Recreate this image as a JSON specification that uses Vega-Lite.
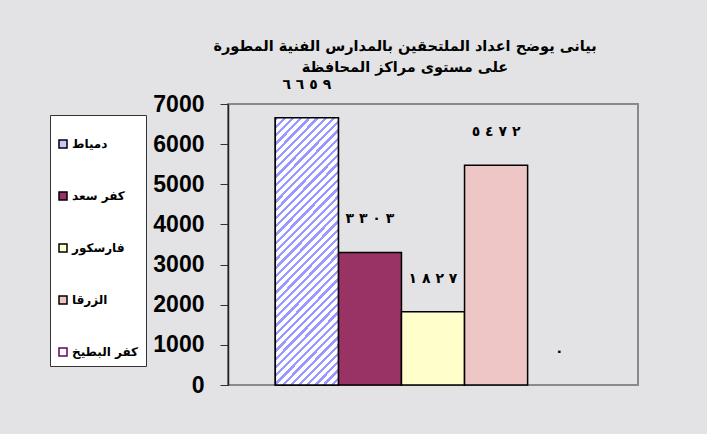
{
  "$schema": "https://vega.github.io/schema/vega-lite/v6.json",
  "width": 410,
  "height": 281,
  "autosize": {"type": "none"},
  "padding": {"left": 228, "top": 104, "right": 69, "bottom": 49},
  "background": "#e3e3e5",
  "title": {
    "text": ["بيانى يوضح اعداد الملتحقين بالمدارس الفنية المطورة", "على مستوى مراكز المحافظة"],
    "font": "DejaVu Sans",
    "fontSize": 14.5,
    "fontWeight": "bold",
    "color": "#000000",
    "anchor": "middle",
    "dx": -28,
    "offset": 2,
    "lineHeight": 21
  },
  "data": {
    "values": [
      {"region": "دمياط", "count": 6659, "label": "٦‎ ٦‎ ٥‎ ٩"},
      {"region": "كفر سعد", "count": 3303, "label": "٣‎ ٣‎ ٠‎ ٣"},
      {"region": "فارسكور", "count": 1827, "label": "١‎ ٨‎ ٢‎ ٧"},
      {"region": "الزرقا", "count": 5472, "label": "٥‎ ٤‎ ٧‎ ٢"},
      {"region": "كفر البطيخ", "count": 0, "label": "٠"}
    ]
  },
  "encoding": {
    "x": {
      "field": "region",
      "type": "nominal",
      "sort": ["دمياط", "كفر سعد", "فارسكور", "الزرقا", "كفر البطيخ"],
      "scale": {"paddingInner": 0, "paddingOuter": 0.75},
      "axis": null
    },
    "y": {
      "field": "count",
      "type": "quantitative",
      "scale": {"domain": [0, 7000], "nice": false},
      "axis": {
        "title": null,
        "values": [0, 1000, 2000, 3000, 4000, 5000, 6000, 7000],
        "format": "d",
        "grid": false,
        "labelFont": "Liberation Sans",
        "labelFontSize": 23,
        "labelFontWeight": "bold",
        "labelColor": "#000000",
        "labelPadding": 16,
        "tickSize": 8,
        "tickColor": "#333333",
        "tickWidth": 1,
        "domainColor": "#222222",
        "domainWidth": 1.5
      }
    }
  },
  "layer": [
    {
      "transform": [{"filter": "datum.count > 0"}],
      "mark": {"type": "bar", "stroke": "#000000", "strokeWidth": 1.5},
      "encoding": {
        "fill": {
          "field": "region",
          "type": "nominal",
          "scale": {
            "domain": ["دمياط", "كفر سعد", "فارسكور", "الزرقا", "كفر البطيخ"],
            "range": ["#c8c8ff", "#993366", "#ffffcc", "#efc6c6", "#ffffff"]
          },
          "legend": {
            "orient": "none",
            "legendX": -178,
            "legendY": 11,
            "title": " ",
            "titleFontSize": 12,
            "titlePadding": 4,
            "padding": 7,
            "fillColor": "#ffffff",
            "strokeColor": "#333333",
            "symbolType": "square",
            "symbolSize": 64,
            "symbolStrokeWidth": 1.5,
            "symbolStrokeColor": "#000000",
            "labelFont": "DejaVu Sans",
            "labelFontSize": 12,
            "labelFontWeight": "bold",
            "labelColor": "#000000",
            "labelOffset": 3,
            "labelLimit": 200,
            "rowPadding": 38,
            "encode": {
              "symbols": {
                "update": {
                  "stroke": [
                    {"test": "datum.value === 'كفر البطيخ'", "value": "#660066"},
                    {"value": "#000000"}
                  ]
                }
              }
            }
          }
        }
      }
    },
    {
      "transform": [{"filter": "datum.region === 'دمياط'"}],
      "mark": {
        "type": "bar",
        "stroke": "#000000",
        "strokeWidth": 1.5,
        "fill": {
          "gradient": "linear",
          "x1": 0, "y1": 0, "x2": 0.28, "y2": 1.172,
          "stops": [
            {"offset": 0, "color": "#9999ff"}, {"offset": 0.01, "color": "#9999ff"}, {"offset": 0.01, "color": "#ffffff"}, {"offset": 0.025, "color": "#ffffff"},
            {"offset": 0.025, "color": "#9999ff"}, {"offset": 0.035, "color": "#9999ff"}, {"offset": 0.035, "color": "#ffffff"}, {"offset": 0.05, "color": "#ffffff"},
            {"offset": 0.05, "color": "#9999ff"}, {"offset": 0.06, "color": "#9999ff"}, {"offset": 0.06, "color": "#ffffff"}, {"offset": 0.075, "color": "#ffffff"},
            {"offset": 0.075, "color": "#9999ff"}, {"offset": 0.085, "color": "#9999ff"}, {"offset": 0.085, "color": "#ffffff"}, {"offset": 0.1, "color": "#ffffff"},
            {"offset": 0.1, "color": "#9999ff"}, {"offset": 0.11, "color": "#9999ff"}, {"offset": 0.11, "color": "#ffffff"}, {"offset": 0.125, "color": "#ffffff"},
            {"offset": 0.125, "color": "#9999ff"}, {"offset": 0.135, "color": "#9999ff"}, {"offset": 0.135, "color": "#ffffff"}, {"offset": 0.15, "color": "#ffffff"},
            {"offset": 0.15, "color": "#9999ff"}, {"offset": 0.16, "color": "#9999ff"}, {"offset": 0.16, "color": "#ffffff"}, {"offset": 0.175, "color": "#ffffff"},
            {"offset": 0.175, "color": "#9999ff"}, {"offset": 0.185, "color": "#9999ff"}, {"offset": 0.185, "color": "#ffffff"}, {"offset": 0.2, "color": "#ffffff"},
            {"offset": 0.2, "color": "#9999ff"}, {"offset": 0.21, "color": "#9999ff"}, {"offset": 0.21, "color": "#ffffff"}, {"offset": 0.225, "color": "#ffffff"},
            {"offset": 0.225, "color": "#9999ff"}, {"offset": 0.235, "color": "#9999ff"}, {"offset": 0.235, "color": "#ffffff"}, {"offset": 0.25, "color": "#ffffff"},
            {"offset": 0.25, "color": "#9999ff"}, {"offset": 0.26, "color": "#9999ff"}, {"offset": 0.26, "color": "#ffffff"}, {"offset": 0.275, "color": "#ffffff"},
            {"offset": 0.275, "color": "#9999ff"}, {"offset": 0.285, "color": "#9999ff"}, {"offset": 0.285, "color": "#ffffff"}, {"offset": 0.3, "color": "#ffffff"},
            {"offset": 0.3, "color": "#9999ff"}, {"offset": 0.31, "color": "#9999ff"}, {"offset": 0.31, "color": "#ffffff"}, {"offset": 0.325, "color": "#ffffff"},
            {"offset": 0.325, "color": "#9999ff"}, {"offset": 0.335, "color": "#9999ff"}, {"offset": 0.335, "color": "#ffffff"}, {"offset": 0.35, "color": "#ffffff"},
            {"offset": 0.35, "color": "#9999ff"}, {"offset": 0.36, "color": "#9999ff"}, {"offset": 0.36, "color": "#ffffff"}, {"offset": 0.375, "color": "#ffffff"},
            {"offset": 0.375, "color": "#9999ff"}, {"offset": 0.385, "color": "#9999ff"}, {"offset": 0.385, "color": "#ffffff"}, {"offset": 0.4, "color": "#ffffff"},
            {"offset": 0.4, "color": "#9999ff"}, {"offset": 0.41, "color": "#9999ff"}, {"offset": 0.41, "color": "#ffffff"}, {"offset": 0.425, "color": "#ffffff"},
            {"offset": 0.425, "color": "#9999ff"}, {"offset": 0.435, "color": "#9999ff"}, {"offset": 0.435, "color": "#ffffff"}, {"offset": 0.45, "color": "#ffffff"},
            {"offset": 0.45, "color": "#9999ff"}, {"offset": 0.46, "color": "#9999ff"}, {"offset": 0.46, "color": "#ffffff"}, {"offset": 0.475, "color": "#ffffff"},
            {"offset": 0.475, "color": "#9999ff"}, {"offset": 0.485, "color": "#9999ff"}, {"offset": 0.485, "color": "#ffffff"}, {"offset": 0.5, "color": "#ffffff"},
            {"offset": 0.5, "color": "#9999ff"}, {"offset": 0.51, "color": "#9999ff"}, {"offset": 0.51, "color": "#ffffff"}, {"offset": 0.525, "color": "#ffffff"},
            {"offset": 0.525, "color": "#9999ff"}, {"offset": 0.535, "color": "#9999ff"}, {"offset": 0.535, "color": "#ffffff"}, {"offset": 0.55, "color": "#ffffff"},
            {"offset": 0.55, "color": "#9999ff"}, {"offset": 0.56, "color": "#9999ff"}, {"offset": 0.56, "color": "#ffffff"}, {"offset": 0.575, "color": "#ffffff"},
            {"offset": 0.575, "color": "#9999ff"}, {"offset": 0.585, "color": "#9999ff"}, {"offset": 0.585, "color": "#ffffff"}, {"offset": 0.6, "color": "#ffffff"},
            {"offset": 0.6, "color": "#9999ff"}, {"offset": 0.61, "color": "#9999ff"}, {"offset": 0.61, "color": "#ffffff"}, {"offset": 0.625, "color": "#ffffff"},
            {"offset": 0.625, "color": "#9999ff"}, {"offset": 0.635, "color": "#9999ff"}, {"offset": 0.635, "color": "#ffffff"}, {"offset": 0.65, "color": "#ffffff"},
            {"offset": 0.65, "color": "#9999ff"}, {"offset": 0.66, "color": "#9999ff"}, {"offset": 0.66, "color": "#ffffff"}, {"offset": 0.675, "color": "#ffffff"},
            {"offset": 0.675, "color": "#9999ff"}, {"offset": 0.685, "color": "#9999ff"}, {"offset": 0.685, "color": "#ffffff"}, {"offset": 0.7, "color": "#ffffff"},
            {"offset": 0.7, "color": "#9999ff"}, {"offset": 0.71, "color": "#9999ff"}, {"offset": 0.71, "color": "#ffffff"}, {"offset": 0.725, "color": "#ffffff"},
            {"offset": 0.725, "color": "#9999ff"}, {"offset": 0.735, "color": "#9999ff"}, {"offset": 0.735, "color": "#ffffff"}, {"offset": 0.75, "color": "#ffffff"},
            {"offset": 0.75, "color": "#9999ff"}, {"offset": 0.76, "color": "#9999ff"}, {"offset": 0.76, "color": "#ffffff"}, {"offset": 0.775, "color": "#ffffff"},
            {"offset": 0.775, "color": "#9999ff"}, {"offset": 0.785, "color": "#9999ff"}, {"offset": 0.785, "color": "#ffffff"}, {"offset": 0.8, "color": "#ffffff"},
            {"offset": 0.8, "color": "#9999ff"}, {"offset": 0.81, "color": "#9999ff"}, {"offset": 0.81, "color": "#ffffff"}, {"offset": 0.825, "color": "#ffffff"},
            {"offset": 0.825, "color": "#9999ff"}, {"offset": 0.835, "color": "#9999ff"}, {"offset": 0.835, "color": "#ffffff"}, {"offset": 0.85, "color": "#ffffff"},
            {"offset": 0.85, "color": "#9999ff"}, {"offset": 0.86, "color": "#9999ff"}, {"offset": 0.86, "color": "#ffffff"}, {"offset": 0.875, "color": "#ffffff"},
            {"offset": 0.875, "color": "#9999ff"}, {"offset": 0.885, "color": "#9999ff"}, {"offset": 0.885, "color": "#ffffff"}, {"offset": 0.9, "color": "#ffffff"},
            {"offset": 0.9, "color": "#9999ff"}, {"offset": 0.91, "color": "#9999ff"}, {"offset": 0.91, "color": "#ffffff"}, {"offset": 0.925, "color": "#ffffff"},
            {"offset": 0.925, "color": "#9999ff"}, {"offset": 0.935, "color": "#9999ff"}, {"offset": 0.935, "color": "#ffffff"}, {"offset": 0.95, "color": "#ffffff"},
            {"offset": 0.95, "color": "#9999ff"}, {"offset": 0.96, "color": "#9999ff"}, {"offset": 0.96, "color": "#ffffff"}, {"offset": 0.975, "color": "#ffffff"},
            {"offset": 0.975, "color": "#9999ff"}, {"offset": 0.985, "color": "#9999ff"}, {"offset": 0.985, "color": "#ffffff"}, {"offset": 1, "color": "#ffffff"}
          ]
        }
      }
    },
    {
      "mark": {
        "type": "text",
        "font": "DejaVu Sans",
        "fontSize": 14,
        "fontWeight": "bold",
        "color": "#000000",
        "baseline": "middle",
        "dy": -33
      },
      "encoding": {
        "text": {"field": "label", "type": "nominal"}
      }
    }
  ],
  "config": {
    "view": {"stroke": "#8a8a8a", "strokeWidth": 2}
  }
}
